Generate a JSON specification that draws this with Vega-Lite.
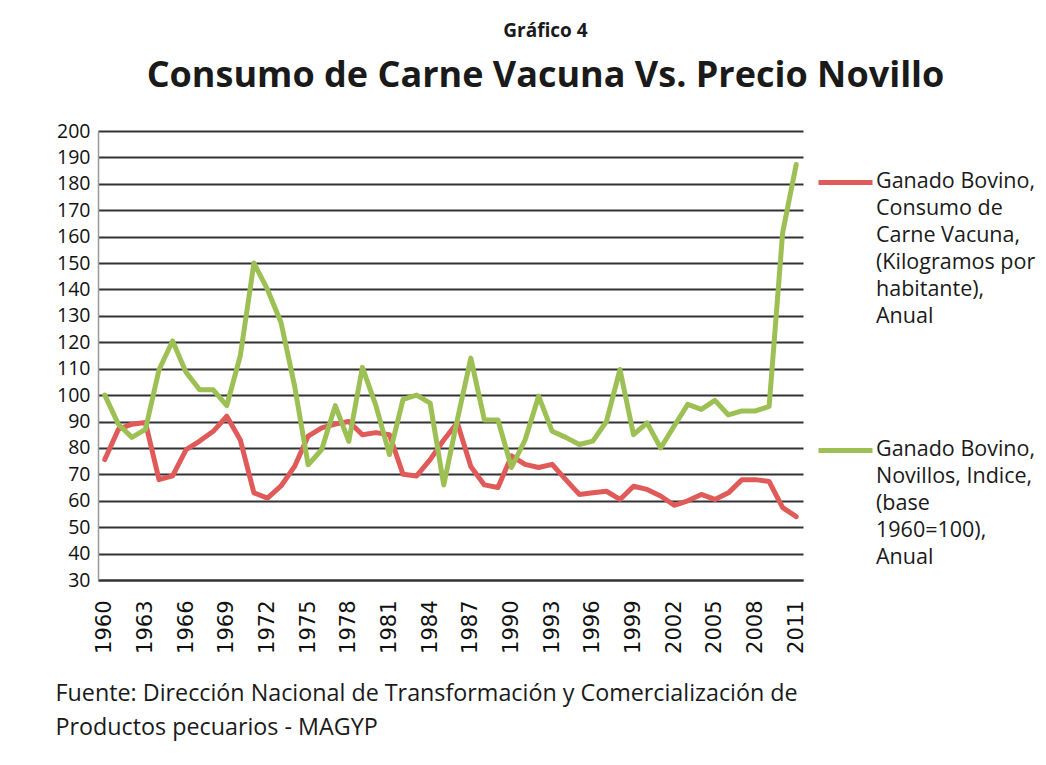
{
  "$schema": "https://vega.github.io/schema/vega-lite/v6.json",
  "width": 705,
  "height": 449,
  "autosize": "none",
  "padding": {"left": 98, "top": 131, "right": 243, "bottom": 185},
  "background": "white",
  "title": {
    "text": "Gráfico 4",
    "subtitle": "Consumo de Carne Vacuna Vs. Precio Novillo",
    "anchor": "middle",
    "dx": 95,
    "offset": 27,
    "font": "Open Sans",
    "fontSize": 19,
    "fontWeight": "bold",
    "color": "#1a1a1a",
    "subtitleFont": "Open Sans",
    "subtitleFontSize": 36,
    "subtitleFontWeight": "bold",
    "subtitleColor": "#1a1a1a",
    "subtitlePadding": 18
  },
  "data": {
    "values": [
      {"year": 1960, "Consumo": 75.6, "Novillos": 100},
      {"year": 1961, "Consumo": 87, "Novillos": 89},
      {"year": 1962, "Consumo": 89, "Novillos": 84},
      {"year": 1963, "Consumo": 89.6, "Novillos": 87},
      {"year": 1964, "Consumo": 68, "Novillos": 109.6},
      {"year": 1965, "Consumo": 69.4, "Novillos": 120.5},
      {"year": 1966, "Consumo": 79.4, "Novillos": 108.6},
      {"year": 1967, "Consumo": 82.6, "Novillos": 102},
      {"year": 1968, "Consumo": 86.3, "Novillos": 102},
      {"year": 1969, "Consumo": 92, "Novillos": 96},
      {"year": 1970, "Consumo": 83, "Novillos": 115},
      {"year": 1971, "Consumo": 63, "Novillos": 150},
      {"year": 1972, "Consumo": 61, "Novillos": 140},
      {"year": 1973, "Consumo": 65.6, "Novillos": 127.5},
      {"year": 1974, "Consumo": 73, "Novillos": 103.5},
      {"year": 1975, "Consumo": 84.5, "Novillos": 73.6},
      {"year": 1976, "Consumo": 87.6, "Novillos": 79.4},
      {"year": 1977, "Consumo": 89, "Novillos": 96},
      {"year": 1978, "Consumo": 90, "Novillos": 82.5},
      {"year": 1979, "Consumo": 85, "Novillos": 110.5},
      {"year": 1980, "Consumo": 85.8, "Novillos": 96},
      {"year": 1981, "Consumo": 85, "Novillos": 77.5},
      {"year": 1982, "Consumo": 70, "Novillos": 98.4},
      {"year": 1983, "Consumo": 69.4, "Novillos": 100},
      {"year": 1984, "Consumo": 75.6, "Novillos": 97},
      {"year": 1985, "Consumo": 83, "Novillos": 66},
      {"year": 1986, "Consumo": 89.5, "Novillos": 90.6},
      {"year": 1987, "Consumo": 73, "Novillos": 114},
      {"year": 1988, "Consumo": 66, "Novillos": 90.6},
      {"year": 1989, "Consumo": 65, "Novillos": 90.6},
      {"year": 1990, "Consumo": 77, "Novillos": 72.6},
      {"year": 1991, "Consumo": 73.8, "Novillos": 83},
      {"year": 1992, "Consumo": 72.6, "Novillos": 99.6},
      {"year": 1993, "Consumo": 73.8, "Novillos": 86.3},
      {"year": 1994, "Consumo": 68, "Novillos": 84},
      {"year": 1995, "Consumo": 62.4, "Novillos": 81.3},
      {"year": 1996, "Consumo": 63, "Novillos": 82.6},
      {"year": 1997, "Consumo": 63.6, "Novillos": 90},
      {"year": 1998, "Consumo": 60.5, "Novillos": 109.7},
      {"year": 1999, "Consumo": 65.5, "Novillos": 85},
      {"year": 2000, "Consumo": 64.3, "Novillos": 89.5},
      {"year": 2001, "Consumo": 61.8, "Novillos": 80},
      {"year": 2002, "Consumo": 58.3, "Novillos": 88.3},
      {"year": 2003, "Consumo": 60, "Novillos": 96.5},
      {"year": 2004, "Consumo": 62.4, "Novillos": 94.6},
      {"year": 2005, "Consumo": 60.5, "Novillos": 98},
      {"year": 2006, "Consumo": 63, "Novillos": 92.5},
      {"year": 2007, "Consumo": 68, "Novillos": 94},
      {"year": 2008, "Consumo": 68, "Novillos": 94},
      {"year": 2009, "Consumo": 67.3, "Novillos": 95.7},
      {"year": 2010, "Consumo": 57.4, "Novillos": 161.6},
      {"year": 2011, "Consumo": 54, "Novillos": 187.3}
    ]
  },
  "transform": [
    {"fold": ["Consumo", "Novillos"], "as": ["serie", "valor"]}
  ],
  "mark": {"type": "line", "strokeWidth": 5, "strokeJoin": "round", "strokeCap": "round"},
  "encoding": {
    "x": {
      "field": "year",
      "type": "ordinal",
      "scale": {"type": "point", "padding": 0.5},
      "axis": {
        "values": [1960, 1963, 1966, 1969, 1972, 1975, 1978, 1981, 1984, 1987, 1990, 1993, 1996, 1999, 2002, 2005, 2008, 2011],
        "labelAngle": -90,
        "labelAlign": "right",
        "labelBaseline": "middle",
        "labelPadding": 20,
        "labelFont": "DejaVu Sans",
        "labelFontSize": 21,
        "labelColor": "#111",
        "ticks": false,
        "grid": false,
        "domainColor": "#333",
        "domainWidth": 1.8,
        "title": ["Fuente: Dirección Nacional de Transformación y Comercialización de", "Productos pecuarios - MAGYP"],
        "titleAngle": 0,
        "titleAlign": "left",
        "titleBaseline": "top",
        "titleX": -43,
        "titleY": 102,
        "titleFont": "Open Sans",
        "titleFontSize": 23.3,
        "titleFontWeight": "normal",
        "titleLineHeight": 34,
        "titleColor": "#1a1a1a"
      }
    },
    "y": {
      "field": "valor",
      "type": "quantitative",
      "scale": {"domain": [30, 200], "nice": false, "zero": false},
      "axis": {
        "values": [30, 40, 50, 60, 70, 80, 90, 100, 110, 120, 130, 140, 150, 160, 170, 180, 190, 200],
        "title": null,
        "ticks": false,
        "labelPadding": 8,
        "labelFont": "Open Sans",
        "labelFontSize": 19.5,
        "labelColor": "#111",
        "gridColor": "#333",
        "gridWidth": 1.8,
        "domainColor": "#999",
        "domainWidth": 1.5
      }
    },
    "color": {
      "field": "serie",
      "type": "nominal",
      "scale": {"domain": ["Consumo", "Novillos"], "range": ["#E05A5A", "#9DC055"]},
      "legend": {
        "orient": "none",
        "legendX": 718,
        "legendY": 22,
        "title": null,
        "symbolType": "stroke",
        "symbolSize": 2916,
        "symbolStrokeWidth": 5,
        "labelOffset": 1,
        "labelFont": "Open Sans",
        "labelFontSize": 21.5,
        "labelColor": "#1a1a1a",
        "labelLimit": 400,
        "labelBaseline": "top",
        "rowPadding": 94,
        "encode": {"labels": {"update": {"dy": {"value": -12}}}},
        "labelExpr": "datum.value == 'Consumo' ? ['Ganado Bovino,', 'Consumo de', 'Carne Vacuna,', '(Kilogramos por', 'habitante),', 'Anual'] : ['Ganado Bovino,', 'Novillos, Indice,', '(base', '1960=100),', 'Anual']"
      }
    }
  },
  "config": {
    "view": {"stroke": null},
    "font": "Open Sans",
    "style": {"guide-label": {"lineHeight": 27}}
  }
}
